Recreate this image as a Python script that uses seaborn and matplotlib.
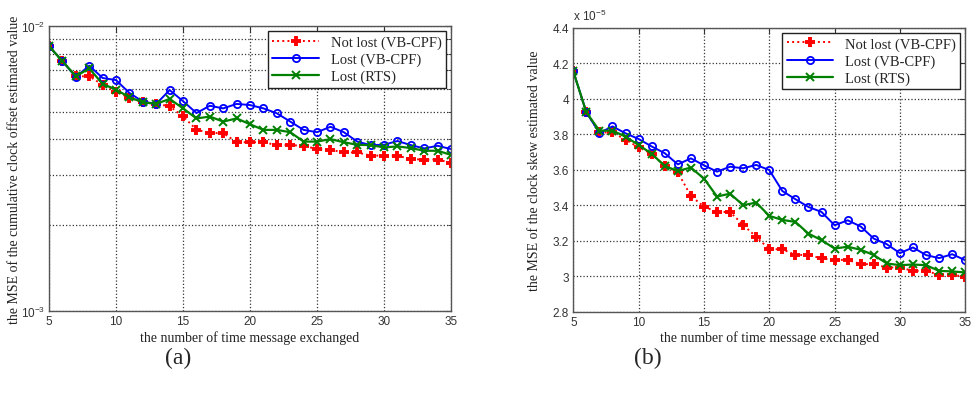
import matplotlib
matplotlib.use("Agg")
import matplotlib.pyplot as plt
import matplotlib.ticker as mticker
import seaborn as sns

# numero de mensagens trocadas (eixo x)
messages = list(range(5, 36))

# (a) MSE do offset acumulado (x 1e-3)
offset_not_lost = [8.49, 7.53, 6.66, 6.66, 6.22, 5.88, 5.60, 5.40, 5.33, 5.23, 4.82,
                   4.33, 4.21, 4.21, 3.91, 3.91, 3.91, 3.82, 3.82, 3.80, 3.70, 3.68,
                   3.60, 3.60, 3.51, 3.51, 3.51, 3.41, 3.40, 3.40, 3.31]
offset_lost_vb = [8.49, 7.53, 6.62, 7.26, 6.57, 6.46, 5.82, 5.43, 5.33, 5.96, 5.45,
                  4.95, 5.25, 5.14, 5.33, 5.28, 5.14, 4.94, 4.62, 4.32, 4.24, 4.43,
                  4.24, 3.93, 3.82, 3.83, 3.95, 3.82, 3.72, 3.80, 3.70]
offset_lost_rts = [8.49, 7.53, 6.66, 7.10, 6.26, 5.98, 5.62, 5.40, 5.33, 5.55, 5.14,
                   4.74, 4.81, 4.62, 4.74, 4.52, 4.32, 4.32, 4.24, 3.93, 3.93, 4.01,
                   3.91, 3.83, 3.82, 3.75, 3.78, 3.73, 3.65, 3.65, 3.53]

# (b) MSE do skew (x 1e-5)
skew_not_lost = [4.154, 3.923, 3.81, 3.81, 3.769, 3.726, 3.69, 3.622, 3.585, 3.452, 3.392,
                 3.362, 3.362, 3.289, 3.222, 3.152, 3.152, 3.12, 3.12, 3.10, 3.092, 3.092,
                 3.068, 3.068, 3.049, 3.049, 3.03, 3.03, 3.008, 3.008, 2.997]
skew_lost_vb = [4.154, 3.923, 3.807, 3.844, 3.805, 3.773, 3.731, 3.693, 3.63, 3.664, 3.625,
                3.589, 3.617, 3.608, 3.627, 3.598, 3.48, 3.434, 3.39, 3.362, 3.287, 3.315,
                3.28, 3.212, 3.18, 3.13, 3.162, 3.119, 3.102, 3.124, 3.09]
skew_lost_rts = [4.154, 3.923, 3.82, 3.82, 3.786, 3.739, 3.69, 3.62, 3.593, 3.612, 3.55,
                 3.449, 3.465, 3.40, 3.415, 3.34, 3.317, 3.306, 3.24, 3.203, 3.156, 3.166,
                 3.149, 3.119, 3.072, 3.062, 3.066, 3.062, 3.03, 3.027, 3.021]

labels = ["Not lost (VB-CPF)", "Lost (VB-CPF)", "Lost (RTS)"]
x_label = "the number of time message exchanged"

sns.set_style("white")
plt.rcParams["font.family"] = ["Liberation Sans", "DejaVu Sans"]
plt.rcParams["mathtext.fontset"] = "custom"
plt.rcParams["mathtext.rm"] = "Liberation Sans"
serif = ["Liberation Serif", "DejaVu Serif"]

fig = plt.figure(figsize=(9.75, 4.02), dpi=100)
ax1 = fig.add_axes([0.0503, 0.2239, 0.4123, 0.7089])
ax2 = fig.add_axes([0.588, 0.2221, 0.402, 0.7065])

# estilo de cada serie (estilo MATLAB)
line_styles = [
    dict(color="red", linestyle=":", linewidth=1.4, marker="+", markersize=7,
         markeredgewidth=2.8, markeredgecolor="red", markerfacecolor="red"),
    dict(color="blue", linestyle="-", linewidth=1.4, marker="o", markersize=5.2,
         markeredgewidth=1.3, markeredgecolor="blue", markerfacecolor="none"),
    dict(color="#008000", linestyle="-", linewidth=1.6, marker="x", markersize=5.5,
         markeredgewidth=1.4, markeredgecolor="#008000", markerfacecolor="#008000"),
]


def draw_series(ax, series, scale):
    for vals, lab, st in zip(series, labels, line_styles):
        sns.lineplot(x=messages, y=[v * scale for v in vals], ax=ax, color=st["color"],
                     label=lab)
        ln = ax.lines[-1]
        ln.set(**st)


def style_axes(ax, ylabel, ylab_x):
    ax.set_xlim(5, 35)
    ax.set_xticks([5, 10, 15, 20, 25, 30, 35])
    ax.tick_params(direction="in", top=True, right=True, labelsize=8.5, colors="#333333",
                   length=4, pad=3)
    ax.tick_params(which="minor", direction="in", right=True, length=2)
    for s in ax.spines.values():
        s.set_color("#555555")
        s.set_linewidth(1.0)
    ax.grid(True, which="both", linestyle=":", color="#333333", linewidth=0.9)
    ax.set_xlabel(x_label, family=serif, fontsize=10, labelpad=2, color="#222222")
    ax.set_ylabel(ylabel, family=serif, fontsize=10, color="#222222")
    ax.yaxis.set_label_coords(ylab_x, 0.5)
    leg = ax.legend(loc="upper right", fancybox=False, framealpha=1, edgecolor="#222222",
                    prop={"family": serif, "size": 10.5}, handlelength=3.2,
                    borderaxespad=0.35, borderpad=0.3, labelspacing=0.25)
    leg.get_frame().set_linewidth(1.0)


# (a) escala log
draw_series(ax1, [offset_not_lost, offset_lost_vb, offset_lost_rts], 1e-3)
ax1.set_yscale("log")
ax1.set_ylim(1e-3, 1e-2)
ax1.yaxis.set_minor_formatter(mticker.NullFormatter())
style_axes(ax1, "the MSE of the cumulative clock offset estimated value", -0.07)

# (b) escala linear
draw_series(ax2, [skew_not_lost, skew_lost_vb, skew_lost_rts], 1.0)
ax2.set_ylim(2.8, 4.4)
ax2.set_yticks([2.8, 3.0, 3.2, 3.4, 3.6, 3.8, 4.0, 4.2, 4.4])
ax2.yaxis.set_major_formatter(mticker.FuncFormatter(lambda v, p: f"{v:g}"))
style_axes(ax2, "the MSE of the clock skew estimated value", -0.082)
ax2.text(0.0, 1.015, r"x 10$^{-5}$", transform=ax2.transAxes, fontsize=8.5,
         color="#333333", ha="left", va="bottom")

fig.text(0.183, 0.108, "(a)", family=serif, fontsize=17, ha="center", va="center")
fig.text(0.664, 0.108, "(b)", family=serif, fontsize=17, ha="center", va="center")

fig.savefig("out.png", dpi=100)
